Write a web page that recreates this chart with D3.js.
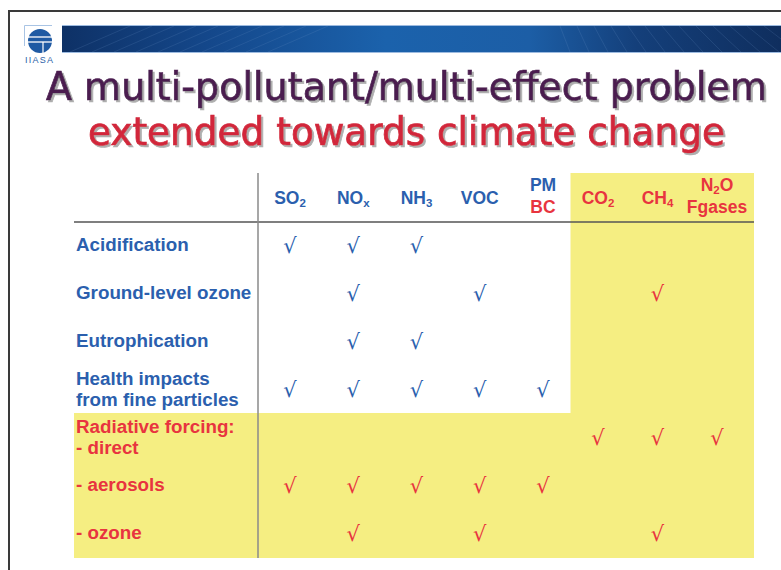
<!DOCTYPE html>
<meta charset="utf-8" />
<html>
  <head>
    <script src="https://d3js.org/d3.v7.min.js"></script>
    <style>
      body {
        margin: 0;
        background-color: white;
      }
      svg text {
        font-family: "Liberation Sans", Arial, sans-serif;
      }
    </style>
  </head>
  <body>
    <div id="chart"></div>
  </body>

  <script>
    // title lines
    const titleLines = ["A multi-pollutant/multi-effect problem", "extended towards climate change"];

    // column headers: "|" splits lines, "_x" marks a subscript character
    const airPollutants = ["SO_2", "NO_x", "NH_3", "VOC", "PM|BC"];
    const climatePollutants = ["CO_2", "CH_4", "N_2O|Fgases"];
    const redTerms = ["BC"];   // climate relevant header lines among air pollutants

    // row labels, "|" splits lines
    const airEffects = ["Acidification", "Ground-level ozone", "Eutrophication", "Health impacts|from fine particles"];
    const climateEffects = ["Radiative forcing:|- direct", "- aerosols", "- ozone"];

    // checks, one row per effect, columns in pollutant order
    const checks = [
      [1, 1, 1, 0, 0, 0, 0, 0],
      [0, 1, 0, 1, 0, 0, 1, 0],
      [0, 1, 1, 0, 0, 0, 0, 0],
      [1, 1, 1, 1, 1, 0, 0, 0],
      [0, 0, 0, 0, 0, 1, 1, 1],
      [1, 1, 1, 1, 1, 0, 0, 0],
      [0, 1, 0, 1, 0, 0, 1, 0]
    ];

    const blue = "#2b5fae";
    const red = "#e8343f";
    const yellow = "#f5ee82";

    const width = 781, height = 570;
    const svg = d3.select("#chart").append("svg")
      .attr("width", width)
      .attr("height", height);

    const defs = svg.append("defs");

    // ---- frame ----
    svg.append("path")
      .attr("d", `M9,${height} L9,11 L${width},11`)
      .attr("fill", "none")
      .attr("stroke", "#3a3a3a")
      .attr("stroke-width", 2);

    // ---- banner ----
    const grad = defs.append("linearGradient").attr("id", "banner");
    [[0, "#0e3166"], [0.2, "#14478a"], [0.45, "#1b62ac"], [0.65, "#1c5ea6"], [0.8, "#143f7a"], [1, "#0f2e5e"]]
      .forEach(([o, c]) => grad.append("stop").attr("offset", o).attr("stop-color", c));

    svg.append("rect")
      .attr("x", 62).attr("y", 25)
      .attr("width", width - 62).attr("height", 28)
      .attr("fill", "url(#banner)");

    // faint grid texture in the banner
    const tex = svg.append("g").attr("stroke", "#6f95c8").attr("stroke-opacity", 0.18).attr("stroke-width", 1);
    d3.range(0, 14).forEach(i => {
      const x0 = 560 + i * 17;
      tex.append("line").attr("x1", x0).attr("y1", 26).attr("x2", x0 + 10 + i * 2).attr("y2", 52);
    });
    d3.range(0, 10).forEach(i => {
      const x0 = 70 + i * 22;
      tex.append("line").attr("x1", x0).attr("y1", 52).attr("x2", x0 + 60).attr("y2", 26);
    });

    svg.append("line").attr("x1", 62).attr("x2", width).attr("y1", 25.5).attr("y2", 25.5)
      .attr("stroke", "#9dbbe0").attr("stroke-width", 1);
    svg.append("line").attr("x1", 62).attr("x2", width).attr("y1", 52.5).attr("y2", 52.5)
      .attr("stroke", "#9dbbe0").attr("stroke-width", 1);

    // ---- logo ----
    const logo = svg.append("g");
    logo.append("path")
      .attr("d", "M24.5,46 L24.5,25.5 L52,25.5")
      .attr("fill", "none").attr("stroke", "#a9c4e4").attr("stroke-width", 1);
    logo.append("circle").attr("cx", 40).attr("cy", 41).attr("r", 12).attr("fill", "#1f5aa3");
    [37, 42].forEach(y => logo.append("line")
      .attr("x1", 27).attr("x2", 53).attr("y1", y).attr("y2", y)
      .attr("stroke", "white").attr("stroke-width", 1.3));
    logo.append("line").attr("x1", 43).attr("x2", 43).attr("y1", 42).attr("y2", 54)
      .attr("stroke", "white").attr("stroke-width", 1.2);
    logo.append("text")
      .attr("x", 25).attr("y", 63)
      .attr("textLength", 28)
      .attr("lengthAdjust", "spacing")
      .attr("fill", "#2a5fa8")
      .style("font-size", "9px")
      .text("IIASA");

    // ---- title ----
    const shadow = defs.append("filter").attr("id", "shadow")
      .attr("x", "-5%").attr("y", "-20%").attr("width", "110%").attr("height", "140%");
    shadow.append("feDropShadow")
      .attr("dx", 2).attr("dy", 2).attr("stdDeviation", 0.6)
      .attr("flood-color", "#9a9a9a").attr("flood-opacity", 0.8);

    const titleSpec = [
      {text: titleLines[0], x: 46, y: 100, len: 721, color: "#4b1f50"},
      {text: titleLines[1], x: 88, y: 145, len: 637, color: "#d2283b"}
    ];
    titleSpec.forEach(t => {
      svg.append("text")
        .attr("x", t.x).attr("y", t.y)
        .attr("textLength", t.len)
        .attr("lengthAdjust", "spacingAndGlyphs")
        .attr("fill", t.color)
        .attr("stroke", t.color)
        .attr("stroke-width", 0.7)
        .attr("filter", "url(#shadow)")
        .style("font-family", "'DejaVu Sans Condensed', 'DejaVu Sans', Verdana, sans-serif")
        .style("font-size", "39px")
        .text(t.text);
    });

    // ---- table scales ----
    const pollutants = airPollutants.concat(climatePollutants);
    const effects = airEffects.concat(climateEffects);

    const xAir = d3.scalePoint().domain(airPollutants).range([290, 543]);
    const xClimate = d3.scalePoint().domain(climatePollutants).range([598, 717]);
    const x = p => airPollutants.includes(p) ? xAir(p) : xClimate(p);

    const y = d3.scalePoint().domain(effects).range([245, 533]);
    const rowStep = y.step();

    const tableLeft = 74, tableRight = 754, tableTop = 173, headerLine = 222, divider = 258;
    const tableBottom = y(effects[effects.length - 1]) + rowStep / 2 + 1;
    const climateLeft = (xAir(airPollutants[airPollutants.length - 1]) + xClimate(climatePollutants[0])) / 2;
    const radiativeTop = (y(airEffects[airEffects.length - 1]) + y(climateEffects[0])) / 2;

    // yellow areas
    svg.append("rect")
      .attr("x", climateLeft).attr("y", tableTop)
      .attr("width", tableRight - climateLeft).attr("height", tableBottom - tableTop)
      .attr("fill", yellow);
    svg.append("rect")
      .attr("x", tableLeft).attr("y", radiativeTop)
      .attr("width", tableRight - tableLeft).attr("height", tableBottom - radiativeTop)
      .attr("fill", yellow);

    // rules
    svg.append("line")
      .attr("x1", tableLeft).attr("x2", tableRight)
      .attr("y1", headerLine).attr("y2", headerLine)
      .attr("stroke", "#555").attr("stroke-width", 1.3);
    svg.append("line")
      .attr("x1", divider).attr("x2", divider)
      .attr("y1", tableTop).attr("y2", tableBottom)
      .attr("stroke", "#8a8a8a").attr("stroke-width", 1.5);

    // ---- headers ----
    const writeRich = (sel, str) => {
      // split into normal and subscript parts
      const parts = [];
      let i = 0;
      while (i < str.length) {
        if (str[i] === "_") {
          parts.push({t: str[i + 1], sub: true});
          i += 2;
        } else {
          let j = i;
          while (j < str.length && str[j] !== "_") j++;
          parts.push({t: str.slice(i, j), sub: false});
          i = j;
        }
      }
      let shifted = false;
      parts.forEach(p => {
        const ts = sel.append("tspan").text(p.t);
        if (p.sub) {
          ts.style("font-size", "11.5px").attr("dy", 3);
          shifted = true;
        } else if (shifted) {
          ts.attr("dy", -3);
          shifted = false;
        }
      });
    };

    pollutants.forEach(p => {
      const lines = p.split("|");
      const isClimate = climatePollutants.includes(p);
      lines.forEach((line, k) => {
        const yy = lines.length === 1 ? 204 : 191 + k * 22;
        const t = svg.append("text")
          .attr("x", x(p))
          .attr("y", yy)
          .attr("text-anchor", "middle")
          .attr("fill", isClimate || redTerms.includes(line) ? red : blue)
          .style("font-size", "17.5px")
          .style("font-weight", "bold");
        writeRich(t, line);
      });
    });

    // ---- row labels ----
    effects.forEach(e => {
      const lines = e.split("|");
      const isClimate = climateEffects.includes(e);
      lines.forEach((line, k) => {
        const yy = lines.length === 1 ? y(e) + 6 : y(e) - 4 + k * 21;
        svg.append("text")
          .attr("x", 76)
          .attr("y", yy)
          .attr("fill", isClimate ? red : blue)
          .style("font-size", "18.8px")
          .style("font-weight", "bold")
          .text(line);
      });
    });

    // ---- checks ----
    const cells = [];
    checks.forEach((row, i) => row.forEach((v, j) => {
      if (v) cells.push({effect: effects[i], pollutant: pollutants[j]});
    }));

    svg.append("g")
      .selectAll("text")
      .data(cells)
      .join("text")
        .attr("x", d => x(d.pollutant))
        .attr("y", d => y(d.effect) + 8)
        .attr("text-anchor", "middle")
        .attr("fill", d => climateEffects.includes(d.effect) || climatePollutants.includes(d.pollutant) ? red : blue)
        .style("font-family", "'DejaVu Sans', sans-serif")
        .style("font-size", "21px")
        .text("√");
  </script>
</html>
